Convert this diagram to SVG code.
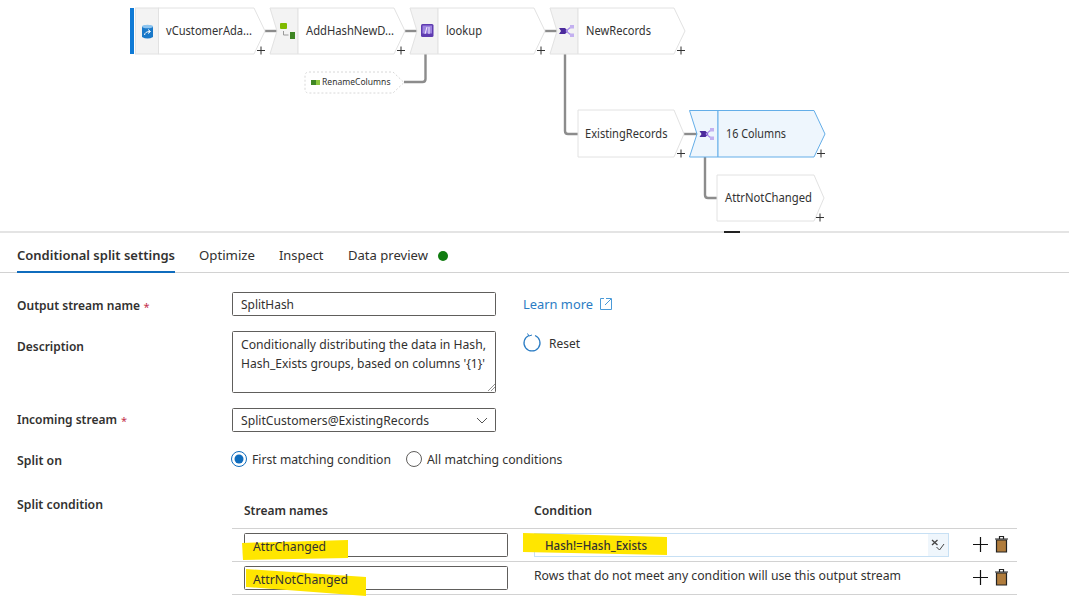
<svg xmlns="http://www.w3.org/2000/svg" width="1069" height="607" viewBox="0 0 1069 607">
<style>
text{font-family:"Noto Sans","Open Sans","Liberation Sans",sans-serif;fill:#323130;font-size:12.5px}
.n{font-size:12px;fill:#333}
.b{font-weight:600;font-size:12.5px}
.tab{font-size:13px}
.star{fill:#c4314b;font-size:11px}
.w{fill:#fff;stroke:#e2e2e2;stroke-width:1}
.g{fill:#f3f3f3;stroke:#e2e2e2;stroke-width:1}
.sw{fill:#eef6fd;stroke:#64aee8;stroke-width:1}
.c{fill:none;stroke:#8c8c8c;stroke-width:2.4}
.p{stroke:#333;stroke-width:1;fill:none}
.in{fill:#fff;stroke:#605e5c;stroke-width:1}
.rule{stroke:#d2d2d2;stroke-width:1}
.hl{fill:#ffe600}
.acc{stroke:#111;stroke-width:1.200;fill:none}
.bin{fill:#b07c3c;stroke:#222;stroke-width:1.200}
.lid{fill:none;stroke:#222;stroke-width:1.200}
.fork{fill:none;stroke:#a98cec;stroke-width:1.300}
.leaf{fill:#c3b0f0}
.hub{fill:#4b2a9c}
</style>
<rect width="1069" height="607" fill="#fff"/>
<g id="connectors">
<path class="c" d="M265 31H278"/><path class="c" d="M405 31H418"/><path class="c" d="M545 31H558"/>
<path class="c" d="M425.500 54V79Q425.500 82 422.500 82H404"/>
<path class="c" d="M565 54V131Q565 134 568 134H578"/>
<path class="c" d="M684 134H698"/>
<path class="c" d="M705 157V195Q705 198 708 198H717"/>
</g>
<g id="node-vCustomer">
<rect x="130" y="8" width="4" height="46" fill="#0f7ad6"/>
<rect class="g" x="135.500" y="8" width="23" height="46"/>
<path class="w" d="M158.500 8H254L265 31L254 54H158.500Z"/>
<path d="M142 26.500Q147.500 24 153 26.500V37Q147.500 40 142 37Z" fill="#1a79c9"/><ellipse cx="147.500" cy="26.500" rx="5.500" ry="1.800" fill="#8cc4f0"/><path d="M144.500 35Q145 31.500 150 31.500M148 29.500l2.500 2-2.500 2" stroke="#fff" fill="none"/>
<text class="n" x="166" y="35" textLength="86" lengthAdjust="spacingAndGlyphs">vCustomerAda...</text>
<path class="p" d="M257 50.500h8M261 46.500v8"/>
</g>
<g id="node-AddHash">
<path class="g" d="M270 8H298V54H270L277 31Z"/>
<path class="w" d="M298 8H394L405 31L394 54H298Z"/>
<rect x="280" y="23" width="7" height="6" rx="1" fill="#7fba00"/><rect x="290" y="32" width="5" height="7" fill="#3f8624"/><path d="M283.500 31v4h5" stroke="#999" fill="none"/>
<text class="n" x="306" y="35" textLength="88" lengthAdjust="spacingAndGlyphs">AddHashNewD...</text>
<path class="p" d="M397 50.500h8M401 46.500v8"/>
</g>
<g id="node-lookup">
<path class="g" d="M410 8H438V54H410L417 31Z"/>
<path class="w" d="M438 8H534L545 31L534 54H438Z"/>
<rect x="421" y="24" width="12.500" height="13" rx="1.500" fill="#5e3bb0"/><rect x="422.500" y="25.500" width="9.500" height="8" fill="#9d84e0"/><path d="M425 34l2-7M429 27v7" stroke="#f0eafc"/>
<text class="n" x="446" y="35" textLength="36" lengthAdjust="spacingAndGlyphs">lookup</text>
<path class="p" d="M537 50.500h8M541 46.500v8"/>
</g>
<g id="node-NewRecords">
<path class="g" d="M550 8H578V54H550L557 31Z"/>
<path class="w" d="M578 8H674L685 31L674 54H578Z"/>
<path class="hub" d="M559 28h6l3 3-3 3h-6l2-3z"/><path class="fork" d="M566 31l5-4M566 31l5 4"/><rect class="leaf" x="570" y="25" width="4" height="3.500"/><rect class="leaf" x="570" y="33.500" width="4" height="3.500"/>
<text class="n" x="586" y="35" textLength="65" lengthAdjust="spacingAndGlyphs">NewRecords</text>
<path class="p" d="M677 50.500h8M681 46.500v8"/>
</g>
<g id="node-RenameColumns">
<path d="M309 72H393L404 82.500L393 93H309Q305 93 305 89V76Q305 72 309 72Z" fill="#fff" stroke="#d8d8d8" stroke-dasharray="2 2"/>
<rect x="311" y="80" width="5" height="5" fill="#3f8624"/><rect x="316" y="80" width="4" height="5" fill="#8cc63f"/>
<text x="322" y="85" textLength="68.500" lengthAdjust="spacingAndGlyphs" style="font-size:9px">RenameColumns</text>
</g>
<g id="node-ExistingRecords">
<path class="w" d="M578 110H674L684 134L674 157H578Z"/>
<text class="n" x="585" y="138" textLength="82.500" lengthAdjust="spacingAndGlyphs">ExistingRecords</text>
<path class="p" d="M677 153.500h8M681 149.500v8"/>
</g>
<g id="node-16Columns">
<path class="sw" d="M689.500 110.500H718V157H689.500L697 134Z"/>
<path class="sw" d="M718 110.500H814L825 134L814 157H718Z"/>
<path class="hub" d="M699.500 131h6l3 3-3 3h-6l2-3z"/><path class="fork" d="M706 134l5-4M706 134l5 4"/><rect class="leaf" x="710" y="128" width="4" height="3.500"/><rect class="leaf" x="710" y="136.500" width="4" height="3.500"/>
<text class="n" x="726" y="138" textLength="60" lengthAdjust="spacingAndGlyphs">16 Columns</text>
<path class="p" d="M817 153.500h8M821 149.500v8"/>
</g>
<g id="node-AttrNotChanged">
<path class="w" d="M717 175H814L824 198L814 221H717Z"/>
<text class="n" x="725" y="202" textLength="87" lengthAdjust="spacingAndGlyphs">AttrNotChanged</text>
<path class="p" d="M816 217.500h8M820 213.500v8"/>
</g>

<rect x="0" y="231" width="1069" height="2" fill="#e4e4e4"/>
<rect x="724" y="231" width="16" height="2" fill="#222"/>

<text class="tab" x="17" y="260" textLength="158" lengthAdjust="spacingAndGlyphs" style="font-weight:600">Conditional split settings</text>
<text class="tab" x="199" y="260" textLength="56" lengthAdjust="spacingAndGlyphs">Optimize</text>
<text class="tab" x="279" y="260" textLength="44.500" lengthAdjust="spacingAndGlyphs">Inspect</text>
<text class="tab" x="348" y="260" textLength="80" lengthAdjust="spacingAndGlyphs">Data preview</text>
<circle cx="443" cy="256" r="5" fill="#107c10"/>
<path class="rule" d="M0 272.500H1069"/>
<rect x="17" y="271" width="158" height="2" fill="#0f6cbd"/>

<text class="b" x="17" y="310" textLength="123" lengthAdjust="spacingAndGlyphs">Output stream name</text><text class="star" x="143.500" y="311">*</text>
<rect class="in" x="232.500" y="292.500" width="263" height="23" rx="1"/>
<text x="241" y="309" textLength="53" lengthAdjust="spacingAndGlyphs">SplitHash</text>
<text x="523" y="309" textLength="70" lengthAdjust="spacingAndGlyphs" style="fill:#2b7cc4;font-size:13px">Learn more</text>
<path d="M604 298.500H600.500V309.500H611.500V303M606 298.500H611.500V303M611 299L605 305" fill="none" stroke="#4a9ad8"/>

<text class="b" x="17" y="351" textLength="67" lengthAdjust="spacingAndGlyphs">Description</text>
<rect class="in" x="232.500" y="331.500" width="263" height="61" rx="1"/>
<text x="241" y="349" textLength="245" lengthAdjust="spacingAndGlyphs">Conditionally distributing the data in Hash,</text>
<text x="241" y="368" textLength="244" lengthAdjust="spacingAndGlyphs">Hash_Exists groups, based on columns '{1}'</text>
<path d="M488 391l7-7M491 391l4-4" stroke="#777" stroke-width=".8"/>
<path d="M529 335.500a8 8 0 1 0 6 0" fill="none" stroke="#2b7cc4" stroke-width="1.200"/><path d="M527.500 333.500l1.500 2.500 3-1" fill="none" stroke="#2b7cc4"/>
<text x="549" y="348" textLength="31" lengthAdjust="spacingAndGlyphs">Reset</text>

<text class="b" x="17" y="424" textLength="100" lengthAdjust="spacingAndGlyphs">Incoming stream</text><text class="star" x="121" y="425">*</text>
<rect class="in" x="232.500" y="408.500" width="263" height="23" rx="1"/>
<text x="241" y="425" textLength="188" lengthAdjust="spacingAndGlyphs">SplitCustomers@ExistingRecords</text>
<path d="M477 418l5 5 5-5" fill="none" stroke="#555"/>

<text class="b" x="17" y="465" textLength="45" lengthAdjust="spacingAndGlyphs">Split on</text>
<circle cx="239" cy="459" r="7.500" fill="#fff" stroke="#0f6cbd"/><circle cx="239" cy="459" r="4.500" fill="#0f6cbd"/>
<text x="252" y="464" textLength="139" lengthAdjust="spacingAndGlyphs">First matching condition</text>
<circle cx="414" cy="459" r="7.500" fill="#fff" stroke="#605e5c"/>
<text x="427" y="464" textLength="135.500" lengthAdjust="spacingAndGlyphs">All matching conditions</text>

<text class="b" x="17" y="509" textLength="86" lengthAdjust="spacingAndGlyphs">Split condition</text>
<text class="b" x="244" y="515" textLength="84" lengthAdjust="spacingAndGlyphs">Stream names</text>
<text class="b" x="534" y="515" textLength="58" lengthAdjust="spacingAndGlyphs">Condition</text>
<path class="rule" d="M232 528.500H1017M232 561.500H1017M232 594.500H1017"/>

<rect class="in" x="244.500" y="533.500" width="263" height="23" rx="1"/>
<rect class="in" x="244.500" y="566.500" width="263" height="23" rx="1"/>
<rect x="534.500" y="533.500" width="414" height="23" fill="#fff" stroke="#c7e0f4"/>
<rect x="928" y="534" width="20" height="22" fill="#eff6fc"/>
<path d="M932 540l5.500 5M937.500 540l-5.500 5" stroke="#444" stroke-width="1.300"/><path d="M936.500 547l3 3 4.500-6" fill="none" stroke="#444"/>

<path class="hl" d="M242 543L348 540L348 558L243 560Z"/>
<path class="hl" d="M246 569L366 577V596L246 587Z"/>
<path class="hl" d="M523 533L667 537V555L523 552Z"/>

<text x="253" y="551" textLength="73" lengthAdjust="spacingAndGlyphs">AttrChanged</text>
<text x="253" y="584" textLength="95" lengthAdjust="spacingAndGlyphs">AttrNotChanged</text>
<text x="545" y="550" textLength="102" lengthAdjust="spacingAndGlyphs" style="font-size:12px;font-weight:500">Hash!=Hash_Exists</text>
<text x="534" y="580" textLength="367" lengthAdjust="spacingAndGlyphs">Rows that do not meet any condition will use this output stream</text>

<path class="acc" d="M973 544.500H988M980.500 537V552M973 577.500H988M980.500 570V585"/>
<path class="bin" d="M996.500 540H1006.500V552H996.500Z"/><path class="lid" d="M995 539H1008M999.500 539V536.500H1003.500V539"/>
<path class="bin" d="M996.500 573H1006.500V585H996.500Z"/><path class="lid" d="M995 572H1008M999.500 572V569.500H1003.500V572"/>
</svg>
